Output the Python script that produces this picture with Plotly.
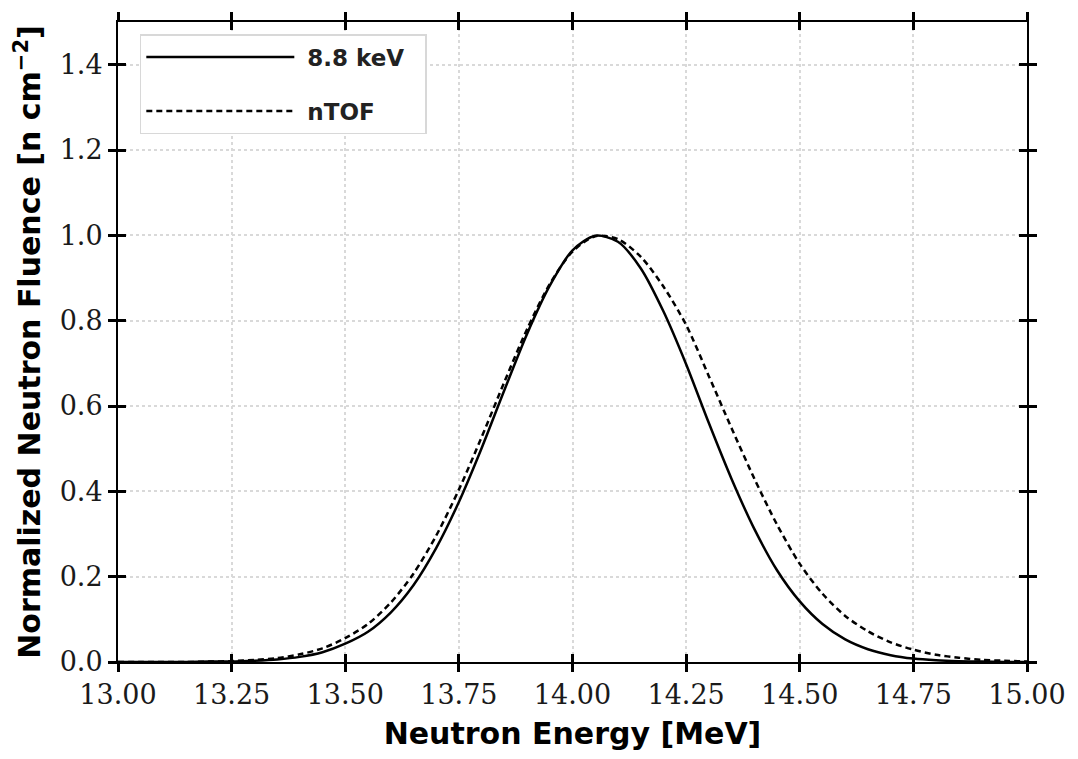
import plotly.graph_objects as go

# Neutron energy grid [MeV]
energy = [13.00, 13.05, 13.10, 13.15, 13.20, 13.25, 13.30, 13.35, 13.40, 13.45,
          13.50, 13.55, 13.60, 13.65, 13.70, 13.75, 13.80, 13.85, 13.90, 13.95,
          14.00, 14.05, 14.10, 14.15, 14.20, 14.25, 14.30, 14.35, 14.40, 14.45,
          14.50, 14.55, 14.60, 14.65, 14.70, 14.75, 14.80, 14.85, 14.90, 14.95,
          15.00]

# 8.8 keV curve (solid)
fluence_88kev = [0.000, 0.000, 0.000, 0.000, 0.001, 0.001, 0.003, 0.006, 0.012, 0.023,
                 0.043, 0.071, 0.116, 0.180, 0.267, 0.375, 0.501, 0.637, 0.769, 0.882,
                 0.965, 0.999, 0.985, 0.923, 0.822, 0.698, 0.560, 0.429, 0.312, 0.215,
                 0.142, 0.089, 0.053, 0.030, 0.016, 0.008, 0.004, 0.002, 0.001, 0.000,
                 0.000]

# nTOF curve (dashed)
fluence_ntof = [0.000, 0.000, 0.000, 0.000, 0.001, 0.002, 0.005, 0.009, 0.018, 0.032,
                0.056, 0.089, 0.139, 0.207, 0.296, 0.404, 0.527, 0.656, 0.780, 0.886,
                0.962, 0.998, 0.991, 0.950, 0.880, 0.790, 0.670, 0.548, 0.430, 0.322,
                0.230, 0.160, 0.108, 0.072, 0.046, 0.029, 0.017, 0.010, 0.005, 0.003,
                0.001]

x_ticks = [13.00, 13.25, 13.50, 13.75, 14.00, 14.25, 14.50, 14.75, 15.00]
x_tick_labels = ["13.00", "13.25", "13.50", "13.75", "14.00", "14.25", "14.50", "14.75", "15.00"]
y_ticks = [0.0, 0.2, 0.4, 0.6, 0.8, 1.0, 1.2, 1.4]
y_tick_labels = ["0.0", "0.2", "0.4", "0.6", "0.8", "1.0", "1.2", "1.4"]

fig = go.Figure()
fig.add_trace(go.Scatter(x=energy, y=fluence_88kev, mode="lines", name="\u00a08.8 keV\u00a0\u00a0",
                         line=dict(color="black", width=2.5, shape="spline", smoothing=0.8),
                         legendgroup="a"))
fig.add_trace(go.Scatter(x=energy, y=fluence_ntof, mode="lines", name="\u00a0nTOF",
                         line=dict(color="black", width=2.5, dash="6px,4px", shape="spline", smoothing=0.8),
                         legendgroup="b"))
# invisible trace carrying the inside ticks on overlay axes
fig.add_trace(go.Scatter(x=[13, 15], y=[0, 1.5], mode="lines", xaxis="x2", yaxis="y2",
                         line=dict(width=0), showlegend=False, hoverinfo="skip"))

tickfont = dict(family="DejaVu Serif", size=27, color="#1a1a1a")
titlefont = dict(family="DejaVu Sans", size=30, color="black", weight="bold")

common = dict(showline=True, linecolor="black", linewidth=2, mirror="allticks",
              ticklen=8, tickwidth=2.5, tickcolor="black", zeroline=False)

fig.update_layout(
    width=1078, height=759,
    margin=dict(l=118, r=46, t=15, b=97),
    paper_bgcolor="white", plot_bgcolor="white",
    showlegend=True,
    xaxis=dict(range=[13, 15], tickvals=x_ticks, ticktext=x_tick_labels, ticks="outside",
               tickfont=tickfont, showgrid=True, gridcolor="#d9d9d9", gridwidth=1.5, griddash="dot",
               title=dict(text="Neutron Energy [MeV]", font=titlefont, standoff=14), **common),
    yaxis=dict(range=[0, 1.5], tickvals=y_ticks, ticktext=y_tick_labels, ticks="outside",
               tickfont=tickfont, showgrid=True, gridcolor="#d9d9d9", gridwidth=1.5, griddash="dot",
               title=dict(text="Normalized Neutron Fluence [n cm<sup>−2</sup>]", font=titlefont, standoff=10),
               **common),
    xaxis2=dict(range=[13, 15], tickvals=x_ticks, ticks="inside", showticklabels=False,
                overlaying="x", side="bottom", showgrid=False, **common),
    yaxis2=dict(range=[0, 1.5], tickvals=y_ticks, ticks="inside", showticklabels=False,
                overlaying="y", side="left", showgrid=False, **common),
    legend=dict(x=0.024, y=0.981, xanchor="left", yanchor="top",
                bgcolor="white", bordercolor="#d8d8d8", borderwidth=1.5,
                font=dict(family="DejaVu Sans", size=23, color="#222", weight="bold"),
                itemwidth=148, tracegroupgap=21),
)

fig.write_html("out.html")
